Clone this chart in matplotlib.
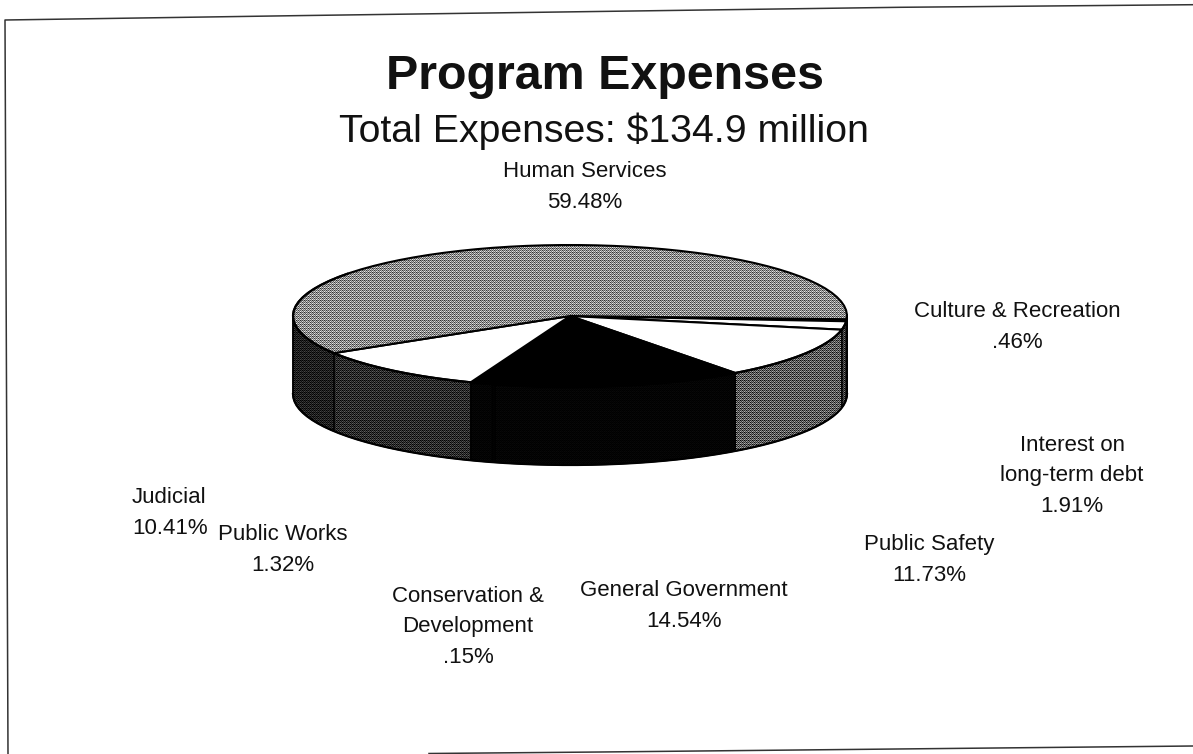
import numpy as np
import matplotlib
matplotlib.use("Agg")
import matplotlib.pyplot as plt
from matplotlib.patches import Polygon

plt.rcParams['font.family'] = ['Liberation Sans', 'DejaVu Sans']

# Expense shares, clockwise from the right-hand edge of Human Services
categories = ['Culture & Recreation', 'Interest on\nlong-term debt', 'Public Safety',
              'General Government', 'Conservation &\nDevelopment', 'Public Works',
              'Judicial', 'Human Services']
shares = [0.46, 1.91, 11.73, 14.54, 0.15, 1.32, 10.41, 59.48]
share_labels = ['.46%', '1.91%', '11.73%', '14.54%', '.15%', '1.32%', '10.41%', '59.48%']
# grey level per slice: 1 is white, 0 is black
top_levels = [1, 1, 1, 0, 0, 0, 1, 0.55]
side_levels = [0.25, 0.25, 0.36, 0.015, 0.015, 0.015, 0.17, 0.12]
# label anchor: x and the baseline of the last line
label_xy = [(1017, 348), (1072, 512), (929, 581), (684, 627), (468, 663), (283, 571), (132, 534), (585, 208)]
label_ha = ['center', 'center', 'center', 'center', 'center', 'center', 'left', 'center']

cx, cy = 570, 316
rx, ry = 277, 71
depth = 78
start = 357.4

W, H = 1193, 754
bayer = np.array([[0, 8, 2, 10], [12, 4, 14, 6], [3, 11, 1, 9], [15, 7, 13, 5]]) / 16 + 1 / 32
tile = np.tile(bayer, (H // 4 + 1, W // 4 + 1))[:H, :W] - 0.5


def arc(a0, a1, shift=0):
    t = np.radians(np.linspace(a0, a1, 60))
    return np.column_stack([cx + rx * np.cos(t), cy - ry * np.sin(t) + shift])


def shaded(ax, pts, level, lw, z):
    # grainy grey fill clipped to the polygon, then its outline
    clip = Polygon(pts, transform=ax.transData)
    grain = np.clip(level + tile * 1.6 * level * (1 - level) * 2, 0, 1)
    im = ax.imshow(grain, cmap='gray', vmin=0, vmax=1, extent=(0, W, H, 0),
                   interpolation='nearest', aspect='auto', zorder=z)
    im.set_clip_path(clip)
    ax.add_patch(Polygon(pts, fill=False, ec='black', lw=lw, zorder=z + 0.5))


fig = plt.figure(figsize=(11.93, 7.54), dpi=100)
ax = fig.add_axes([0, 0, 1, 1])
ax.axis('off')

# sheet border, slightly skewed
ax.plot([8, 5, 300, 900, 1193], [754, 20, 15.6, 7.3, 4.7], color='#333333', lw=1.1)
ax.plot([429, 600, 1193], [753.5, 752, 746], color='#333333', lw=1.1)

# slice angles run clockwise from the start angle
sweeps = np.array(shares) / sum(shares) * 360
ends = start - np.cumsum(sweeps)
begins = ends + sweeps

# front wall first, only the part of each slice facing the viewer
z = 2
for a0, a1, level in zip(begins, ends, side_levels):
    for shift in (0, 360, -360):
        b0, b1 = min(a0 + shift, 360), max(a1 + shift, 180)
        if b0 <= b1:
            continue
        wall = np.vstack([arc(b0, b1), arc(b1, b0, depth)])
        shaded(ax, wall, level, 1.0, z)
        z += 1

# top faces
for a0, a1, level in zip(begins, ends, top_levels):
    face = np.vstack([[cx, cy], arc(a0, a1)])
    shaded(ax, face, level, 1.5, z)
    z += 1

# outer rim of the drum
ax.plot(*arc(start, start - 214).T, color='black', lw=1.6, zorder=z)
ax.plot(*arc(180, 360, depth).T, color='black', lw=1.6, zorder=z)
ax.plot([cx - rx, cx - rx], [cy, cy + depth], color='black', lw=1.2, zorder=z)
ax.plot([cx + rx, cx + rx], [cy, cy + depth], color='black', lw=1.2, zorder=z)

ax.set_xlim(0, W)
ax.set_ylim(H, 0)

for name, lab, (x, y), ha in zip(categories, share_labels, label_xy, label_ha):
    ax.text(x, y, name + '\n' + lab, ha=ha, va='baseline', fontsize=16, linespacing=1.6,
            color='#111111', multialignment=ha, zorder=50)

ax.text(605.5, 89, 'Program Expenses', ha='center', va='baseline', fontsize=34.8, fontweight='bold', color='#111111')
ax.text(604, 142, 'Total Expenses: $134.9 million', ha='center', va='baseline', fontsize=28.3, color='#111111')

fig.savefig('out.png', dpi=100)
